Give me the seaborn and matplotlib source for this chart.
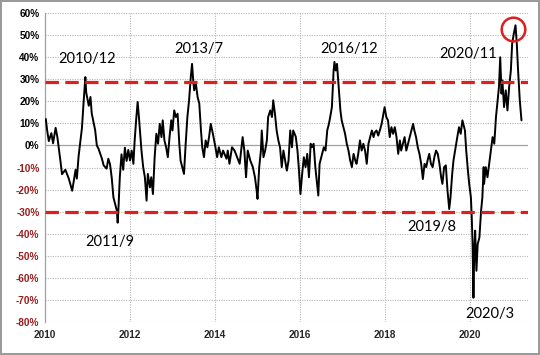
import matplotlib
matplotlib.use("Agg")
import matplotlib.pyplot as plt
import seaborn as sns
import pandas as pd

years = [
    2010.02, 2010.05, 2010.09, 2010.15, 2010.19, 2010.25, 2010.29, 2010.37, 2010.40, 2010.48,
    2010.56, 2010.64, 2010.72, 2010.75, 2010.79, 2010.87, 2010.91, 2010.95, 2010.97, 2011.03,
    2011.07, 2011.10, 2011.18, 2011.22, 2011.26, 2011.34, 2011.38, 2011.45, 2011.49, 2011.53,
    2011.57, 2011.61, 2011.65, 2011.69, 2011.71, 2011.73, 2011.76, 2011.80, 2011.84, 2011.88,
    2011.92, 2011.96,
    2012.00, 2012.04, 2012.08, 2012.11, 2012.15, 2012.18, 2012.21, 2012.27, 2012.31, 2012.35,
    2012.39, 2012.42, 2012.47, 2012.50, 2012.54, 2012.58, 2012.62, 2012.66, 2012.70, 2012.74,
    2012.77, 2012.81, 2012.85, 2012.89, 2012.93, 2012.97, 2013.00, 2013.04, 2013.08, 2013.12,
    2013.16, 2013.19, 2013.23, 2013.27, 2013.31, 2013.35, 2013.39, 2013.43, 2013.46, 2013.49,
    2013.51, 2013.55, 2013.59, 2013.63, 2013.67, 2013.70, 2013.74, 2013.78, 2013.82, 2013.86,
    2013.90,
    2013.95, 2014.01, 2014.05, 2014.09, 2014.15, 2014.19, 2014.27, 2014.30, 2014.34, 2014.40,
    2014.46, 2014.52, 2014.58, 2014.65, 2014.69, 2014.73, 2014.77, 2014.83, 2014.89, 2014.94,
    2014.98, 2015.00, 2015.04, 2015.08, 2015.10, 2015.14, 2015.18, 2015.22, 2015.25, 2015.30,
    2015.34, 2015.37, 2015.41, 2015.45, 2015.49, 2015.53, 2015.57, 2015.61, 2015.65, 2015.69,
    2015.73, 2015.77, 2015.81, 2015.84, 2015.90,
    2015.94, 2015.97, 2016.01, 2016.05, 2016.09, 2016.13, 2016.17, 2016.21, 2016.25, 2016.28,
    2016.32, 2016.36, 2016.40, 2016.43, 2016.46, 2016.50, 2016.56, 2016.60, 2016.64, 2016.68,
    2016.71, 2016.75, 2016.79, 2016.81, 2016.84, 2016.87, 2016.91, 2016.95, 2016.98, 2017.02,
    2017.06, 2017.10, 2017.14, 2017.18, 2017.22, 2017.26, 2017.30, 2017.33, 2017.37, 2017.41,
    2017.45, 2017.49, 2017.53, 2017.57, 2017.61, 2017.65, 2017.69, 2017.73, 2017.76, 2017.80,
    2017.84, 2017.88,
    2017.92, 2017.99, 2018.03, 2018.07, 2018.11, 2018.15, 2018.19, 2018.23, 2018.27, 2018.31,
    2018.35, 2018.38, 2018.42, 2018.46, 2018.50, 2018.58, 2018.62, 2018.66, 2018.69, 2018.73,
    2018.77, 2018.81, 2018.85, 2018.89, 2018.93, 2018.97, 2019.00, 2019.04, 2019.08, 2019.12,
    2019.16, 2019.20, 2019.24, 2019.28, 2019.32, 2019.35, 2019.39, 2019.43, 2019.47, 2019.51,
    2019.54, 2019.58, 2019.61, 2019.66, 2019.70, 2019.74, 2019.78, 2019.82, 2019.86,
    2019.88, 2019.91, 2019.95, 2019.98, 2020.02, 2020.04, 2020.06, 2020.08, 2020.10, 2020.12,
    2020.15, 2020.18, 2020.22, 2020.26, 2020.29, 2020.32, 2020.33, 2020.37, 2020.41, 2020.45,
    2020.49, 2020.53, 2020.57, 2020.61, 2020.64, 2020.68, 2020.71, 2020.74, 2020.76, 2020.80,
    2020.84, 2020.88, 2020.92, 2020.96, 2020.99, 2021.03, 2021.07, 2021.10, 2021.13, 2021.17,
    2021.21,
]

values = [
    12, 7, 2, 5.6, 1, 8, 4, -8, -13, -11,
    -15, -20.5, -11, -15, -5, 8, 20, 31, 24, 18,
    22, 14.5, 7, 0, -1.5, -6, -9, -10.5, -6, -8.5,
    -14.5, -23.5, -26.5, -29.5, -35, -28, -14.5, -4, -11, -1,
    -7, -2,
    -6.8, -2.3, -8.3, 2.3, 12.9, 19.7, 12.9, -2.3, -9.8, -14.4,
    -25, -12.9, -19, -14.4, -22, -5.3, 5.3, 0.8, 9.8, 3.8,
    11.4, 2.3, -0.8, -5.3, 3.8, 11.4, 6.8, 15.9, 12.9, 14.4,
    0.8, -6.8, -9.8, -12.9, 0.8, 12.9, 20.5, 31, 37, 28.8,
    25, 28, 22, 19, 6.8, -0.8, -5.3, 2.3, -0.8, 3.8,
    9.8,
    5.3, -0.8, -5.3, -0.8, -5.3, -2.3, -6, -2.3, -8.3, -0.8,
    -2.3, -5.3, -8.3, 3.8, -2.3, -14.4, -2.3, -6.8, -9.8, -14.4,
    -20.5, -24.2, -9.8, -2.3, 6.8, -5.3, -2.3, 2.3, 12.9, 15.9,
    12.9, 20.5, 14.4, 6.8, 2.3, -0.8, -9.8, -2.3, -6.8, -11.4,
    -6.8, 6.8, -0.8, 6.8, 4,
    -2.3, -9.8, -22, -12.9, -5.3, -9.8, -3.8, -14.4, 0.8, -0.8,
    0.8, -9.8, -17.4, -22.7, -8.3, -5.3, -0.8, -2.3, 6.8, 9.8,
    12.9, 17.4, 34, 37.9, 34, 37, 26.5, 15.9, 11.4, 8.3,
    5.3, 0.8, -2.3, -6.8, -9.8, -3.8, -6.8, -8.3, -3.8, 2.3,
    -2.3, 0.8, -2.3, -8.3, 0.8, 3.8, 6.8, 3.8, 6, 6.8,
    4.5, 7,
    9.8, 17.4, 12.9, 11.4, 3.8, 8.3, 5.3, 8.3, 3.8, -3.8,
    2.3, -2.3, 0.8, 3.8, -2.3, 3.8, 6.8, 9.8, 6.8, 3.8,
    -0.8, -3.8, -8.3, -15.2, -8.3, -9.8, -6.8, -3.8, -8.3, -9.8,
    -5.3, -2.3, -3.8, -8.3, -14.4, -17.4, -9.8, -9, -20.5, -28.8,
    -23.5, -12.9, -6.8, -0.8, 3.8, 8.3, 5.3, 11.4, 8.3,
    6.8, -2.3, -11.4, -17.4, -23.5, -32.6, -44.7, -69, -47.7, -38.6,
    -56.8, -44.7, -41.7, -29.5, -23.5, -9.8, -17.4, -9.8, -14.4, -8.3,
    -2.3, 3.8, 0.8, 12.9, 18.9, 26.5, 40, 23.5, 29.5, 17.4,
    25, 15.9, 26.5, 34, 46, 50.8, 54.5, 46, 34, 20.5,
    11.4,
]

upper_band = 29
lower_band = -30

ann_labels = ["2010/12", "2013/7", "2016/12", "2020/11", "2011/9", "2019/8", "2020/3"]
ann_x = [2011.0, 2013.61, 2017.16, 2019.95, 2011.52, 2019.11, 2020.47]
ann_y = [39, 43.6, 43.6, 41.4, -43.6, -36.8, -76.4]

circle_x = [2021.02]
circle_y = [53]

x_ticks = [2010, 2012, 2014, 2016, 2018, 2020]
y_ticks = list(range(-80, 61, 10))

sns.set_theme(style="white")
plt.rcParams["font.family"] = ["Liberation Sans", "DejaVu Sans"]

fig = plt.figure(figsize=(5.4, 3.55), dpi=100)
fig.patch.set_facecolor("white")
fig.patch.set_edgecolor("#9a9a9a")
fig.patch.set_linewidth(1.5)
ax = fig.add_axes([0.0833, 0.093, 0.895, 0.870])

df = pd.DataFrame({"year": years, "value": values})

# grid
for yv in y_ticks:
    if yv == 0:
        ax.axhline(yv, color="#a0a0a0", lw=0.9, ls="-", zorder=0)
    else:
        ax.axhline(yv, color="#b5b5b5", lw=0.8, ls=(0, (1, 1.2)), zorder=0)
for xv in x_ticks[1:]:
    ax.axvline(xv, color="#b5b5b5", lw=0.8, ls=(0, (1, 1.2)), zorder=0)

sns.lineplot(data=df, x="year", y="value", ax=ax, color="black", lw=1.4,
             estimator=None, sort=False, zorder=3)

ax.axhline(upper_band, color="#dd1f1f", lw=2.3, ls=(0, (4.2, 2.0)), zorder=4)
ax.axhline(lower_band, color="#dd1f1f", lw=2.3, ls=(0, (4.2, 2.0)), zorder=4)

for t, x, y in zip(ann_labels, ann_x, ann_y):
    ax.text(x, y, t, ha="center", va="center", fontsize=10.5,
            family=["Lato", "DejaVu Sans"], color="black", zorder=5)

ax.plot(circle_x, circle_y, marker="o", ms=17, mfc="none", mec="#dd1f1f",
        mew=1.8, ls="none", zorder=6)

ax.set_xlim(2010, 2021.37)
ax.set_ylim(-80, 60)
ax.set_xticks(x_ticks)
ax.set_xticklabels([str(v) for v in x_ticks], fontsize=7.2, fontweight="bold")
ax.set_yticks(y_ticks)
ax.set_yticklabels([f"{v}%" for v in y_ticks], fontsize=7.2, fontweight="bold")
for lab, v in zip(ax.get_yticklabels(), y_ticks):
    lab.set_color("#9b1b1b" if v < 0 else "black")
ax.tick_params(axis="both", length=0, pad=4)
ax.tick_params(axis="x", pad=6)
ax.set_xlabel("")
ax.set_ylabel("")

for side in ["top", "right", "bottom"]:
    ax.spines[side].set_visible(False)
ax.spines["left"].set_color("#a0a0a0")
ax.spines["left"].set_linewidth(0.9)

fig.savefig("out.png", dpi=100, facecolor=fig.get_facecolor(),
            edgecolor=fig.get_edgecolor())
